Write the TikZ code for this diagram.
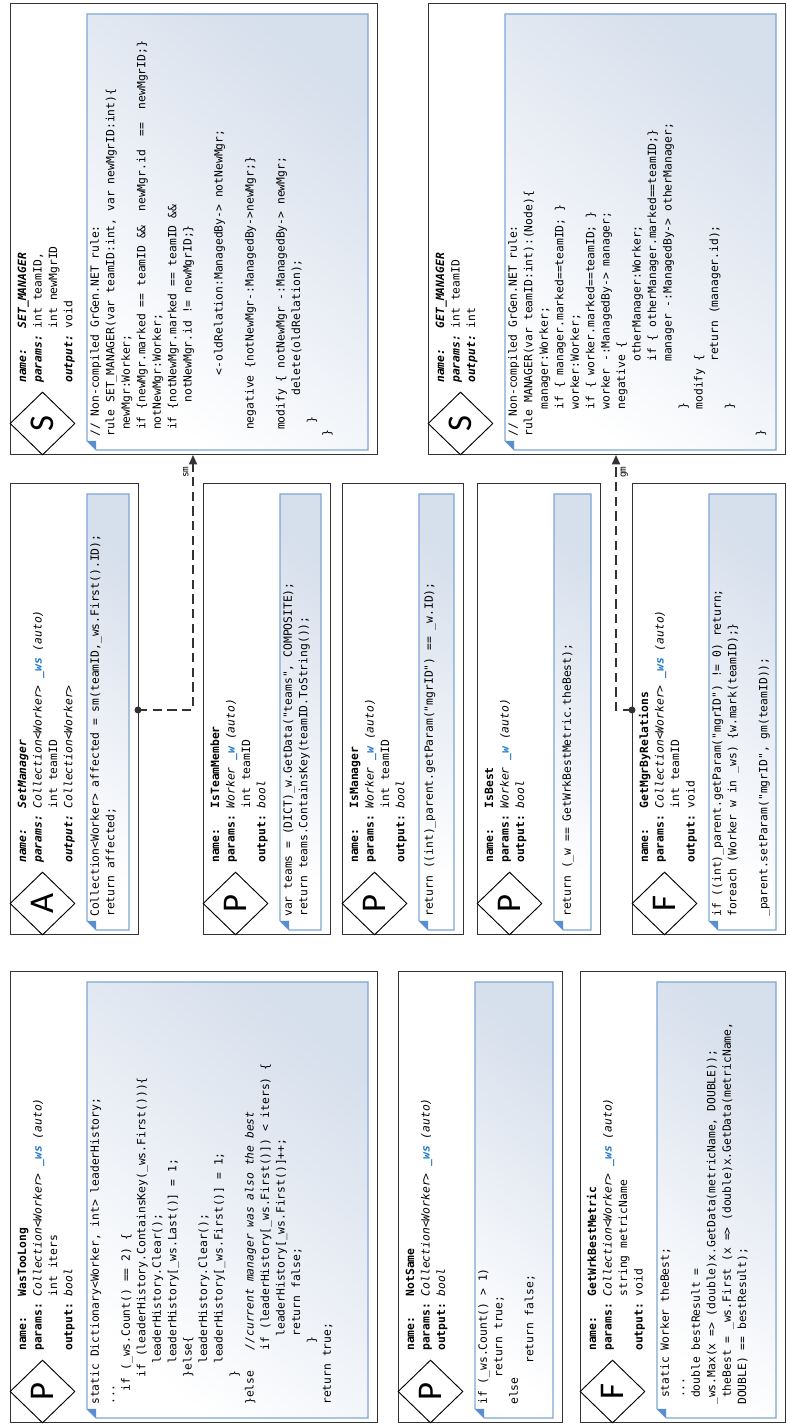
\documentclass[tikz,border=0pt]{standalone}
\usepackage{fontspec}
\usetikzlibrary{shapes.geometric,arrows.meta}
\newfontfamily\codefont{DejaVu Sans Mono}[ItalicFont={DejaVu Sans Mono Oblique},BoldFont={DejaVu Sans Mono Bold},BoldItalicFont={DejaVu Sans Mono Bold Oblique}]
\newfontfamily\letterfont{Carlito}
\newcommand\codesz{\codefont\fontsize{8.5}{11.6}\selectfont}
\newcommand\cind[1]{\hspace*{#1\fontcharwd\font`x}}
\definecolor{wsblue}{HTML}{1E78C8}
\definecolor{noteborder}{HTML}{7EA6D6}
\definecolor{notefill}{HTML}{D6DFEC}
\definecolor{foldblue}{HTML}{5A8ED4}
\definecolor{boxline}{HTML}{333333}
\definecolor{connline}{HTML}{333333}
\newcommand\WSv{\textbf{\textit{\color{wsblue}\_ws}}}
\newcommand\Wv{\textbf{\textit{\color{wsblue}\_w}}}
\newcommand\Coll{\textit{Collection<Worker>}}
\newcommand\hlab[1]{\textbf{#1}}
\newcommand\hlabi[1]{\textbf{\textit{#1}}}
\tikzset{
  box/.style={draw=boxline, line width=0.9pt, minimum width=451*0.75pt, inner sep=0pt, anchor=north west},
  dmd/.style={diamond, draw=black, line width=0.7pt, minimum width=63*0.75pt, minimum height=65*0.75pt, inner sep=0pt, aspect=1, font=\letterfont\fontsize{26}{26}\selectfont},
  hdr/.style={anchor=north west, inner sep=0pt, font=\codesz},
  code/.style={anchor=north west, inner sep=0pt, align=left, font=\codesz},
  notebg/.style={draw=noteborder, line width=0.8pt, top color=notefill, bottom color=white, shading angle=-40},
  foldtri/.style={fill=foldblue},
  conn/.style={draw=connline, line width=1.2pt, dash pattern=on 7pt off 4pt},
  lbl/.style={font=\codefont\fontsize{7}{8}\selectfont, inner sep=1pt}
}
\newcommand\mkbox[5]{%
  \node[box, minimum height=#4*0.75pt] (#1) at (#2,#3) {};
  \node[dmd] (#1-d) at ({#2+31.5},{#3+32.5}) {#5};
  \shade[notebg] ({#2+14},{#3+77}) -- ({#2+441},{#3+77}) -- ({#2+441},{#3+#4-9}) -- ({#2+5},{#3+#4-9}) -- ({#2+5},{#3+86}) -- cycle;
  \fill[foldtri] ({#2+5},{#3+86}) -- ({#2+14},{#3+77}) -- ({#2+14},{#3+86}) -- cycle;
}
\begin{document}
\begin{tikzpicture}[x=0.75pt, y=-0.75pt]
\begin{scope}[rotate=90, transform shape]
\useasboundingbox (0,0) rectangle (1427,788);
% ---------- left column ----------
\mkbox{wtl}{4}{10}{367}{P}
\node[hdr] (wtl-h) at (76,15) {\begin{tabular}{@{}l@{\ }l@{}}
\hlab{name:} & \hlab{WasTooLong}\\
\hlab{params:} & \Coll\ \WSv\ \textit{(auto)}\\
 & int iters\\
\hlab{output:} & \textit{bool}
\end{tabular}};
\node[code] (wtl-c) at (22,90) {static Dictionary<Worker, int> leaderHistory;\\
...\\
\cind{2}if (\_ws.Count() == 2) \{\\
\cind{4}if (leaderHistory.ContainsKey(\_ws.First()))\{\\
\cind{6}leaderHistory.Clear();\\
\cind{6}leaderHistory[\_ws.Last()] = 1;\\
\cind{4}\}else\{\\
\cind{6}leaderHistory.Clear();\\
\cind{6}leaderHistory[\_ws.First()] = 1;\\
\cind{4}\}\\
\}else\cind{3}\textit{//current manager was also the best}\\
\cind{8}if (leaderHistory[\_ws.First()]) < iters) \{\\
\cind{10}leaderHistory[\_ws.First()]++;\\
\cind{10}return false;\\
\cind{9}\}\\
return true;};

\mkbox{nsm}{4}{398}{164}{P}
\node[hdr] (nsm-h) at (76,403) {\begin{tabular}{@{}l@{\ }l@{}}
\hlab{name:} & \hlab{NotSame}\\
\hlab{params:} & \Coll\ \WSv\ \textit{(auto)}\\
\hlab{output:} & \textit{bool}
\end{tabular}};
\node[code] (nsm-c) at (22,478) {if (\_ws.Count() > 1)\\
\cind{4}return true;\\
else\\
\cind{6}return false;};

\mkbox{gwb}{4}{580}{205}{F}
\node[hdr] (gwb-h) at (76,585) {\begin{tabular}{@{}l@{\ }l@{}}
\hlab{name:} & \hlab{GetWrkBestMetric}\\
\hlab{params:} & \Coll\ \WSv\ \textit{(auto)}\\
 & string metricName\\
\hlab{output:} & void
\end{tabular}};
\node[code] (gwb-c) at (22,660) {\cind{1}static Worker theBest;\\
\cind{1}...\\
\cind{1}double bestResult =\\
\_ws.Max(x => (double)x.GetData(metricName, DOUBLE));\\
\cind{1}theBest = \_ws.First (x => (double)x.GetData(metricName,\\
DOUBLE) == bestResult);};

% ---------- middle column ----------
\mkbox{smg}{492}{10}{128}{A}
\node[hdr] (smg-h) at (564,15) {\begin{tabular}{@{}l@{\ }l@{}}
\hlabi{name:} & \hlabi{SetManager}\\
\hlabi{params:} & \Coll\ \WSv\ \textit{(auto)}\\
 & int teamID\\
\hlabi{output:} & \Coll
\end{tabular}};
\node[code] (smg-c) at (510,90) {Collection<Worker> affected = sm(teamID,\_ws.First().ID);\\
return affected;};

\mkbox{itm}{492}{203}{127}{P}
\node[hdr] (itm-h) at (564,208) {\begin{tabular}{@{}l@{\ }l@{}}
\hlab{name:} & \hlab{IsTeamMember}\\
\hlab{params:} & \textit{Worker} \Wv\ \textit{(auto)}\\
 & int teamID\\
\hlab{output:} & \textit{bool}
\end{tabular}};
\node[code] (itm-c) at (510,283) {var teams = (DICT)\_w.GetData("teams", COMPOSITE);\\
return teams.ContainsKey(teamID.ToString());};

\mkbox{ism}{492}{342}{121}{P}
\node[hdr] (ism-h) at (564,347) {\begin{tabular}{@{}l@{\ }l@{}}
\hlab{name:} & \hlab{IsManager}\\
\hlab{params:} & \textit{Worker} \Wv\ \textit{(auto)}\\
 & int teamID\\
\hlab{output:} & \textit{bool}
\end{tabular}};
\node[code] (ism-c) at (510,424) {return ((int)\_parent.getParam("mgrID") == \_w.ID);};

\mkbox{isb}{492}{477}{123}{P}
\node[hdr] (isb-h) at (564,482) {\begin{tabular}{@{}l@{\ }l@{}}
\hlab{name:} & \hlab{IsBest}\\
\hlab{params:} & \textit{Worker} \Wv\ \textit{(auto)}\\
\hlab{output:} & \textit{bool}
\end{tabular}};
\node[code] (isb-c) at (510,562) {return (\_w == GetWrkBestMetric.theBest);};

\mkbox{gmr}{492}{632}{153}{F}
\node[hdr] (gmr-h) at (564,637) {\begin{tabular}{@{}l@{\ }l@{}}
\hlab{name:} & \hlab{GetMgrByRelations}\\
\hlab{params:} & \Coll\ \WSv\ \textit{(auto)}\\
 & int teamID\\
\hlab{output:} & void
\end{tabular}};
\node[code] (gmr-c) at (510,712) {if ((int)\_parent.getParam("mgrID") != 0) return;\\
foreach (Worker w in \_ws) \{w.mark(teamID);\}\\
\mbox{}\\
\_parent.setParam("mgrID", gm(teamID));};

% ---------- right column ----------
\mkbox{setrule}{972}{10}{367}{S}
\node[hdr] (setrule-h) at (1044,15) {\begin{tabular}{@{}l@{\ }l@{}}
\hlabi{name:} & \hlabi{SET\_MANAGER}\\
\hlabi{params:} & int teamID,\\
 & int newMgrID\\
\hlabi{output:} & void
\end{tabular}};
\node[code] (setrule-c) at (990,90) {// Non-compiled GrGen.NET rule:\\
rule SET\_MANAGER(var teamID:int, var newMgrID:int)\{\\
\cind{1}newMgr:Worker;\\
\cind{1}if \{newMgr.marked == teamID \&\&\cind{2}newMgr.id\cind{2}==\cind{2}newMgrID;\}\\
\cind{1}notNewMgr:Worker;\\
\cind{1}if \{notNewMgr.marked == teamID \&\&\\
\cind{5}notNewMgr.id != newMgrID;\}\\
\mbox{}\\
\cind{9}<-oldRelation:ManagedBy-> notNewMgr;\\
\mbox{}\\
\cind{1}negative \{notNewMgr-:ManagedBy->newMgr;\}\\
\mbox{}\\
\cind{1}modify \{ notNewMgr -:ManagedBy-> newMgr;\\
\cind{6}delete(oldRelation);\\
\cind{2}\}\\
\}};

\mkbox{getrule}{972}{428}{357}{S}
\node[hdr] (getrule-h) at (1044,433) {\begin{tabular}{@{}l@{\ }l@{}}
\hlabi{name:} & \hlabi{GET\_MANAGER}\\
\hlabi{params:} & int teamID\\
\hlabi{output:} & int
\end{tabular}};
\node[code] (getrule-c) at (990,508) {// Non-compiled GrGen.NET rule:\\
rule MANAGER(var teamID:int):(Node)\{\\
\cind{4}manager:Worker;\\
\cind{4}if \{ manager.marked==teamID; \}\\
\cind{4}worker:Worker;\\
\cind{4}if \{ worker.marked==teamID; \}\\
\cind{4}worker -:ManagedBy-> manager;\\
\cind{4}negative \{\\
\cind{11}otherManager:Worker;\\
\cind{11}if \{ otherManager.marked==teamID;\}\\
\cind{11}manager -:ManagedBy-> otherManager;\\
\cind{4}\}\\
\cind{4}modify \{\\
\cind{11}return (manager.id);\\
\cind{4}\}\\
\mbox{}\\
\}};

% ---------- connectors ----------
\coordinate (smS) at (717,138);
\coordinate (smB) at (717,193);
\coordinate (smE) at (972,193);
\draw[conn, -{Triangle[length=7pt,width=6pt]}] (smS) -- (smB) -- (smE);
\fill[connline] (smS) circle[radius=3.5];
\node[lbl, anchor=south east] (smL) at (962,190) {sm};

\coordinate (gmS) at (717,632);
\coordinate (gmB) at (717,616);
\coordinate (gmE) at (972,616);
\draw[conn, -{Triangle[length=7pt,width=6pt]}] (gmS) -- (gmB) -- (gmE);
\fill[connline] (gmS) circle[radius=3.5];
\node[lbl, anchor=north east] (gmL) at (962,619) {gm};
\end{scope}
\end{tikzpicture}
\end{document}
